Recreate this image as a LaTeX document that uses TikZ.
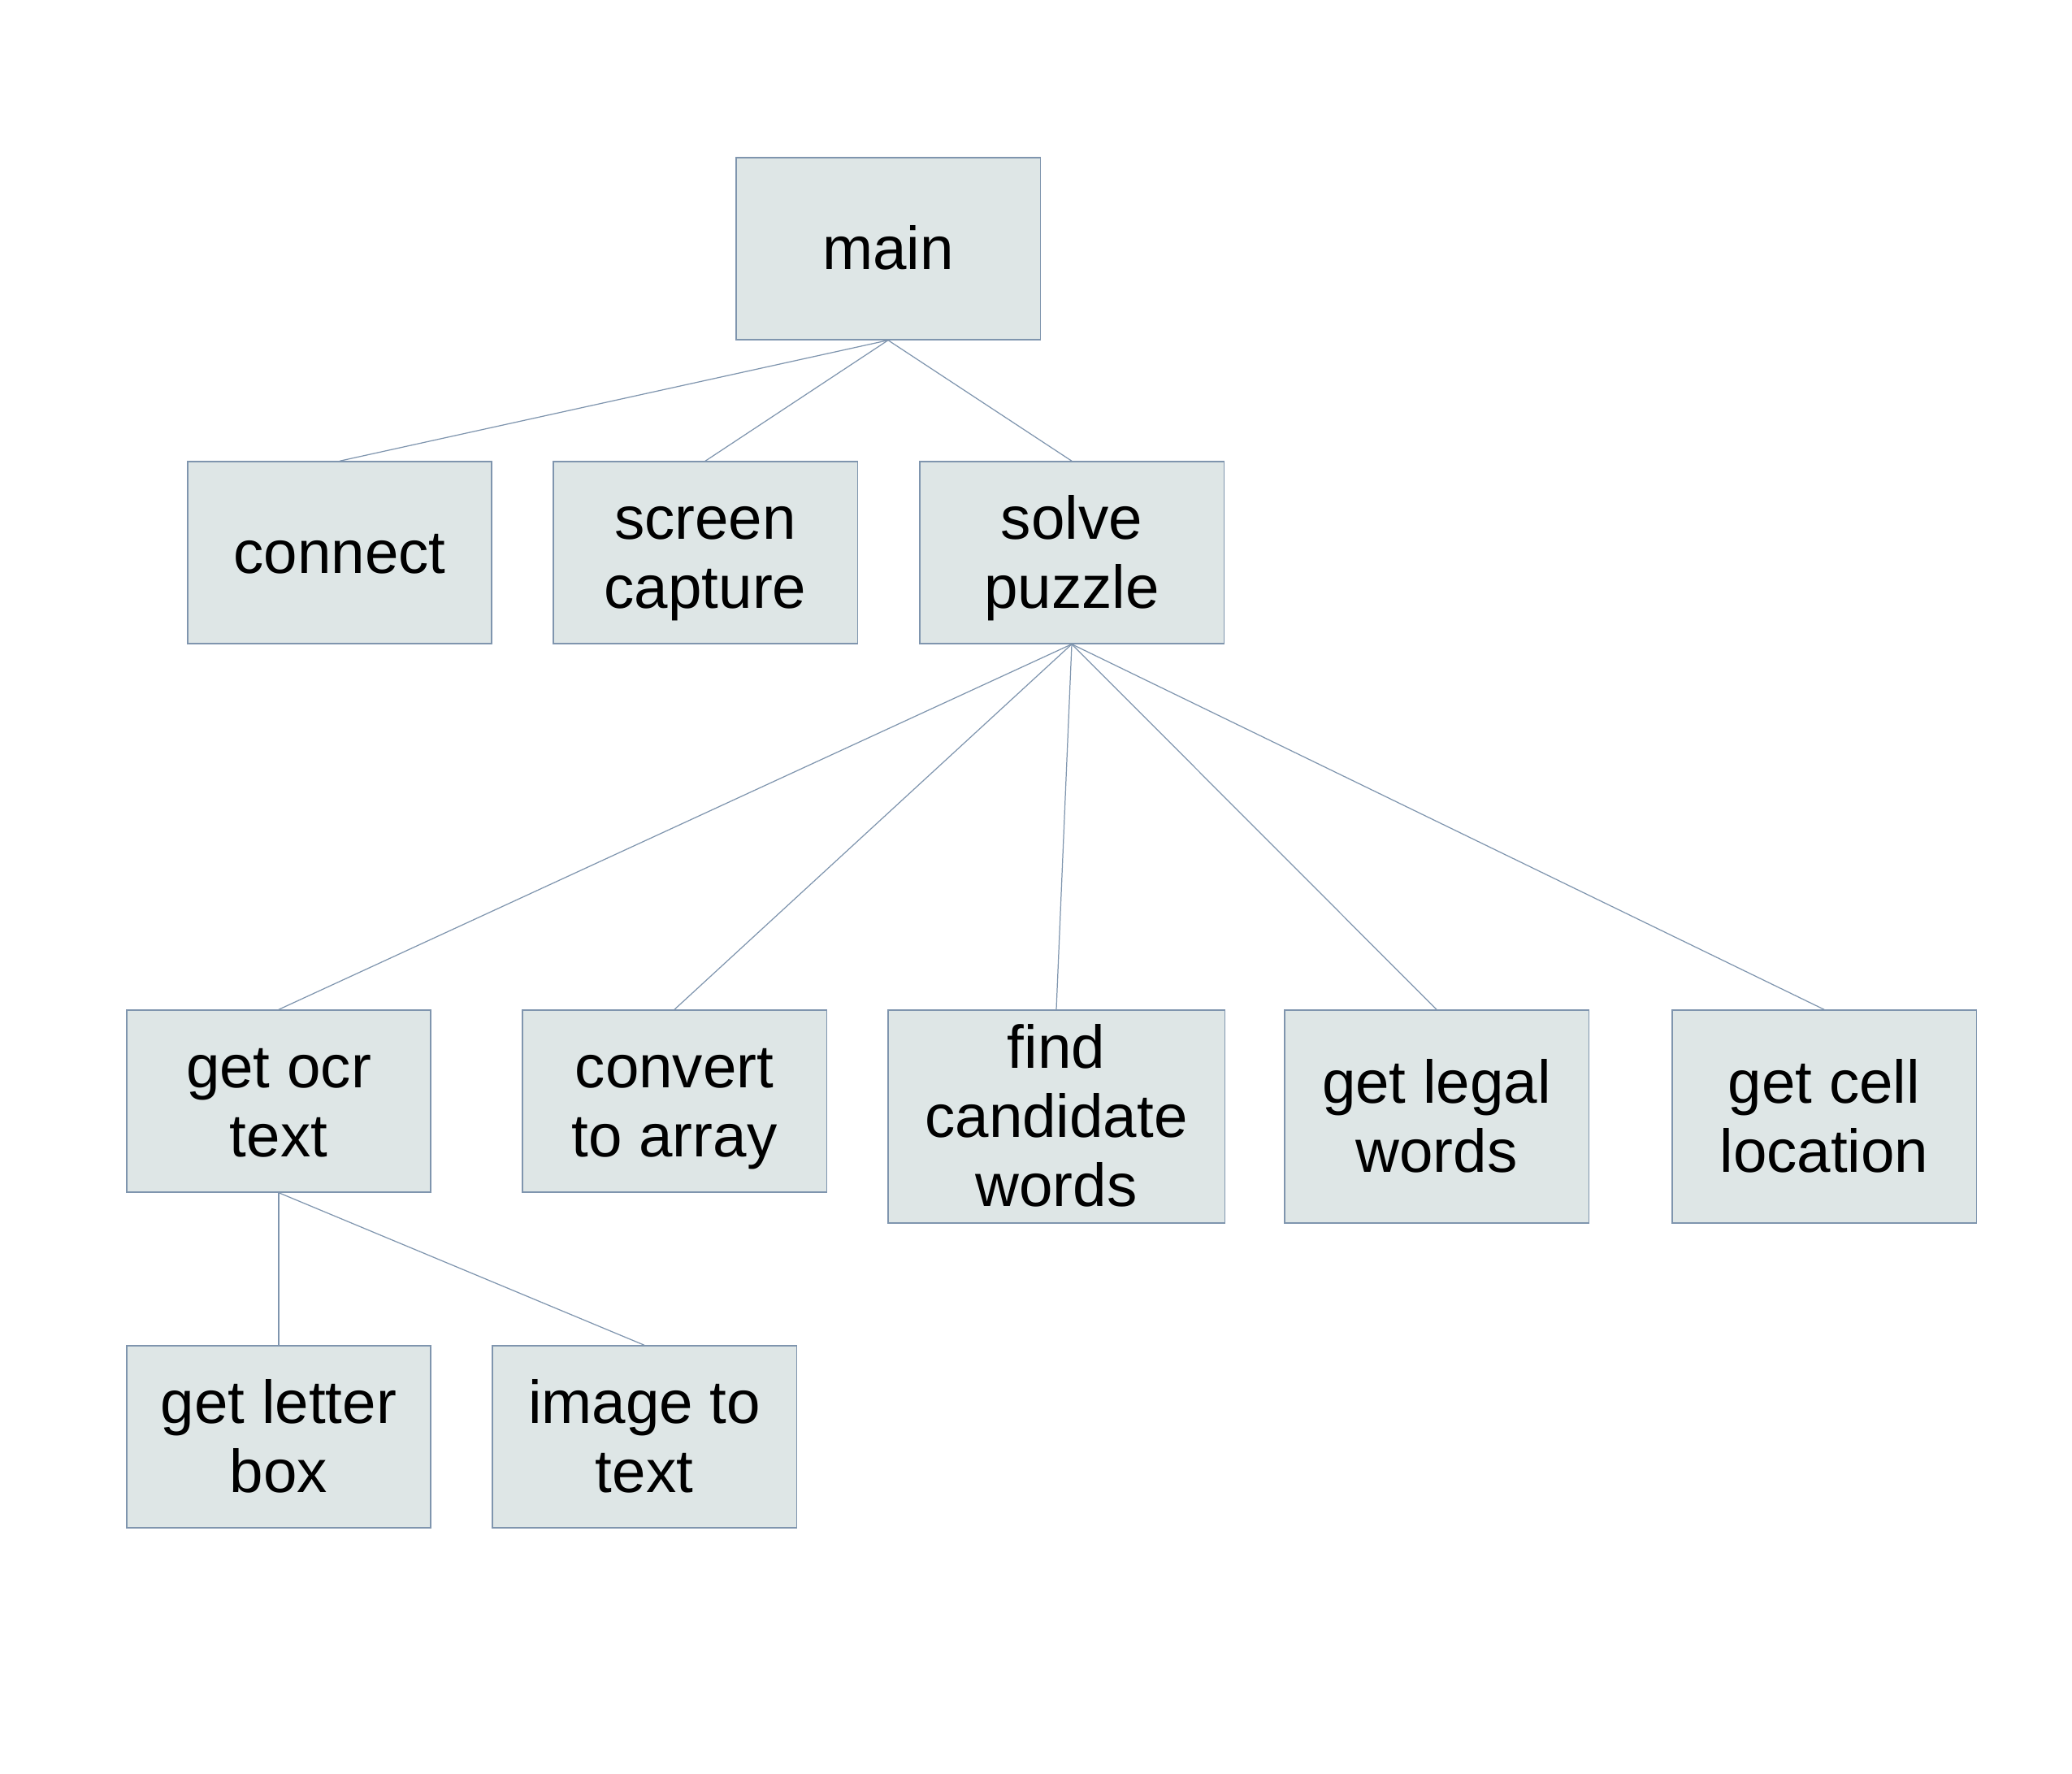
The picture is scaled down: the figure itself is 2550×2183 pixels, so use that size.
\documentclass[tikz,border=0pt]{standalone}
\usepackage{fontspec}
\setmainfont{Liberation Sans}
\definecolor{boxfill}{HTML}{DEE6E6}
\definecolor{boxline}{HTML}{7F95AE}
\newcommand{\lstrut}{\rule[-0.212em]{0pt}{1.117em}}
\begin{document}
\begin{tikzpicture}[x=0.01cm, y=-0.01cm, every node/.style={rectangle, draw=boxline, fill=boxfill, line width=0.35pt, align=center, inner sep=0pt, minimum width=3.74cm, minimum height=2.24cm, font=\fontsize{21.2}{24.2}\selectfont}]
    \useasboundingbox (0,0) rectangle (2550,2183);
    \node (main) at (1093, 306) {\lstrut main};
    \node (conn) at (418, 680) {\lstrut connect};
    \node (scap) at (868, 680) {\lstrut screen\\capture\lstrut};
    \node (solve) at (1319, 680) {\lstrut solve\\puzzle\lstrut};
    \node (ocr) at (343, 1355) {\lstrut get ocr\\text\lstrut};
    \node (arr) at (830, 1355) {\lstrut convert\\to array\lstrut};
    \node[minimum width=4.14cm, minimum height=2.62cm] (cand) at (1300, 1374) {\lstrut find\\candidate\\words\lstrut};
    \node[minimum height=2.62cm] (legal) at (1768, 1374) {\lstrut get legal\\words\lstrut};
    \node[minimum height=2.62cm] (cell) at (2245, 1374) {\lstrut get cell\\location\lstrut};
    \node (lbox) at (343, 1768) {\lstrut get letter\\box\lstrut};
    \node (img) at (793, 1768) {\lstrut image to\\text\lstrut};
    \foreach \from/\to in {main/conn, main/scap, main/solve, solve/ocr, solve/arr, solve/cand, solve/legal, solve/cell, ocr/lbox, ocr/img}
        \draw[boxline, line width=0.35pt] (\from.south) -- (\to.north);
\end{tikzpicture}
\end{document}
